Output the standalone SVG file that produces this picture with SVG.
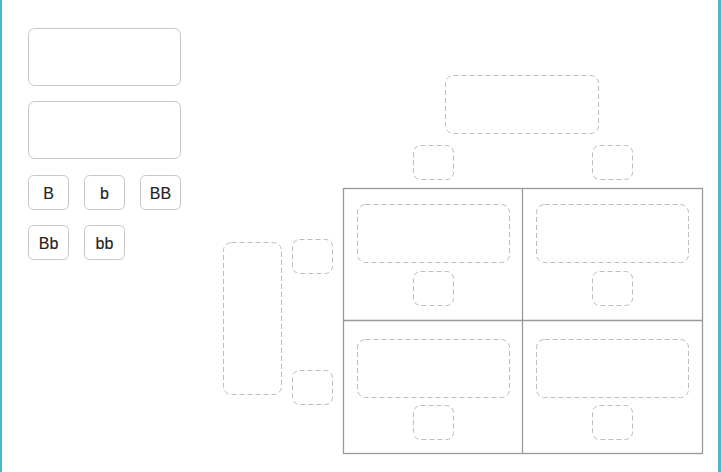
<svg xmlns="http://www.w3.org/2000/svg" width="721" height="472" viewBox="0 0 721 472">
<style>
.solid{fill:#fff;stroke:#c8c8c8;stroke-width:1}
.dash{fill:none;stroke:#bdbdbd;stroke-width:1;stroke-dasharray:5 3}
.grid{fill:none;stroke:#999;stroke-width:1.3}
.lbl{font-family:"Liberation Sans",Arial,sans-serif;font-size:16px;fill:#222;stroke:#222;stroke-width:0.15;text-anchor:middle}
</style>
<rect x="0" y="0" width="721" height="472" fill="#fff"/>
<rect x="0" y="0" width="2" height="472" fill="#4db6cc"/>
<rect x="718" y="0" width="3" height="472" fill="#4db6cc"/>
<g id="slot-top-1"><rect class="solid" x="28.5" y="28.5" width="152" height="57" rx="6"/></g>
<g id="slot-top-2"><rect class="solid" x="28.5" y="101.5" width="152" height="57" rx="6"/></g>
<g id="tile-B"><rect class="solid" x="28.5" y="175.5" width="40" height="34" rx="5"/><text class="lbl" x="48.5" y="198.5">B</text></g>
<g id="tile-b"><rect class="solid" x="84.5" y="175.5" width="40" height="34" rx="5"/><text class="lbl" x="104.5" y="198.5">b</text></g>
<g id="tile-BB"><rect class="solid" x="140.5" y="175.5" width="40" height="34" rx="5"/><text class="lbl" x="160.5" y="198.5">BB</text></g>
<g id="tile-Bb"><rect class="solid" x="28.5" y="225.5" width="40" height="34" rx="5"/><text class="lbl" x="48.5" y="248.5">Bb</text></g>
<g id="tile-bb"><rect class="solid" x="84.5" y="225.5" width="40" height="34" rx="5"/><text class="lbl" x="104.5" y="248.5">bb</text></g>
<g id="connectors">
<rect class="grid" x="343.5" y="188.5" width="359" height="265"/>
<line class="grid" x1="522.5" y1="188.5" x2="522.5" y2="453.5"/>
<line class="grid" x1="343.5" y1="320.5" x2="702.5" y2="320.5"/>
</g>
<g id="parent-top"><rect class="dash" x="445.5" y="75.5" width="153" height="58" rx="8"/></g>
<g id="gamete-top-1"><rect class="dash" x="413.5" y="145.5" width="40" height="34" rx="7"/></g>
<g id="gamete-top-2"><rect class="dash" x="592.5" y="145.5" width="40" height="34" rx="7"/></g>
<g id="parent-left"><rect class="dash" x="223.5" y="242.5" width="58" height="152" rx="8"/></g>
<g id="gamete-left-1"><rect class="dash" x="292.5" y="239.5" width="40" height="34" rx="7"/></g>
<g id="gamete-left-2"><rect class="dash" x="292.5" y="370.5" width="40" height="34" rx="7"/></g>
<g id="cell-1"><rect class="dash" x="357.5" y="204.5" width="152" height="58" rx="8"/><rect class="dash" x="413.5" y="271.5" width="40" height="34" rx="7"/></g>
<g id="cell-2"><rect class="dash" x="536.5" y="204.5" width="152" height="58" rx="8"/><rect class="dash" x="592.5" y="271.5" width="40" height="34" rx="7"/></g>
<g id="cell-3"><rect class="dash" x="357.5" y="339.5" width="152" height="58" rx="8"/><rect class="dash" x="413.5" y="405.5" width="40" height="34" rx="7"/></g>
<g id="cell-4"><rect class="dash" x="536.5" y="339.5" width="152" height="58" rx="8"/><rect class="dash" x="592.5" y="405.5" width="40" height="34" rx="7"/></g>
</svg>
